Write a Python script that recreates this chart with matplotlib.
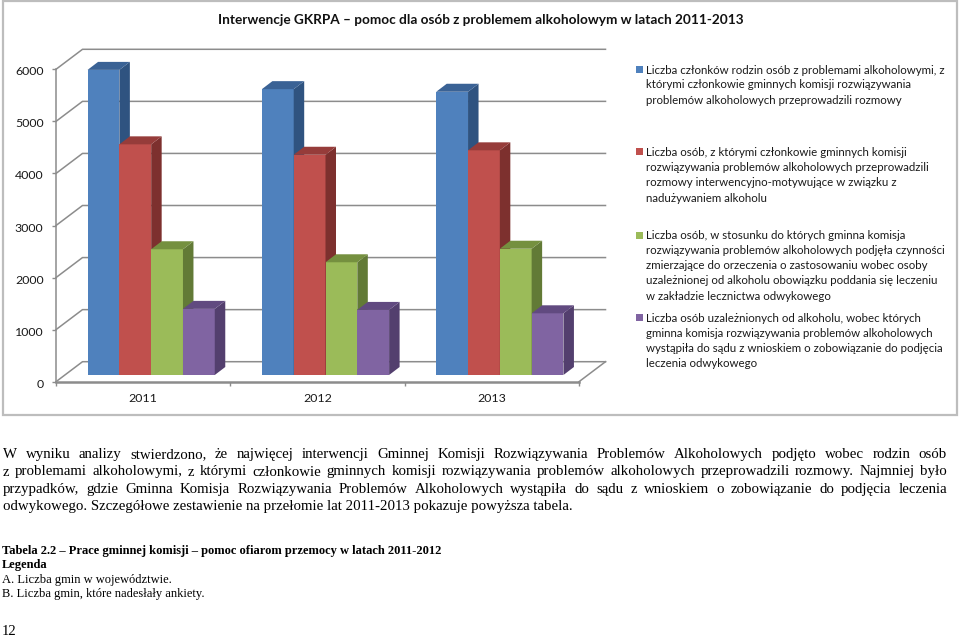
import matplotlib
matplotlib.use("Agg")
import numpy as np
import matplotlib.pyplot as plt
from matplotlib.patches import Polygon, Rectangle
from matplotlib.transforms import ScaledTranslation

W, H = 960, 637

# values
years = ["2011", "2012", "2013"]
czlonkowie_rodzin = [5860, 5490, 5440]
rozmowy = [4430, 4230, 4315]
orzeczenie = [2415, 2165, 2425]
sad = [1270, 1250, 1185]
y_ticks = [0, 1000, 2000, 3000, 4000, 5000, 6000]

title = "Interwencje GKRPA – pomoc dla osób z problemem alkoholowym w latach 2011-2013"

legend_labels = [
    ["Liczba członków rodzin osób z problemami alkoholowymi, z",
     "którymi członkowie gminnych komisji rozwiązywania",
     "problemów alkoholowych przeprowadzili rozmowy"],
    ["Liczba osób, z którymi członkowie gminnych komisji",
     "rozwiązywania problemów alkoholowych przeprowadzili",
     "rozmowy interwencyjno-motywujące w związku z",
     "nadużywaniem alkoholu"],
    ["Liczba osób, w stosunku do których gminna komisja",
     "rozwiązywania problemów alkoholowych podjęła czynności",
     "zmierzające do orzeczenia o zastosowaniu wobec osoby",
     "uzależnionej od alkoholu obowiązku poddania się leczeniu",
     "w zakładzie lecznictwa odwykowego"],
    ["Liczba osób uzależnionych od alkoholu, wobec których",
     "gminna komisja rozwiązywania problemów alkoholowych",
     "wystąpiła do sądu z wnioskiem o zobowiązanie do podjęcia",
     "leczenia odwykowego"],
]
legend_y = [[69.5, 84.5, 99.5], [151.5, 167, 182, 197.5],
            [235, 250, 265, 280, 295.5], [317.5, 333, 348, 363]]

body_lines = [
    "W wyniku analizy stwierdzono, że najwięcej interwencji Gminnej Komisji Rozwiązywania Problemów Alkoholowych podjęto wobec rodzin osób",
    "z problemami alkoholowymi, z którymi członkowie gminnych komisji rozwiązywania problemów alkoholowych przeprowadzili rozmowy. Najmniej było",
    "przypadków, gdzie Gminna Komisja Rozwiązywania Problemów Alkoholowych wystąpiła do sądu z wnioskiem o zobowiązanie do podjęcia leczenia",
    "odwykowego. Szczegółowe zestawienie na przełomie lat 2011-2013 pokazuje powyższa tabela.",
]
body_y = [458, 475.5, 493, 510]

series = [czlonkowie_rodzin, rozmowy, orzeczenie, sad]
front = ["#4F81BD", "#C0504D", "#9BBB59", "#8064A2"]
side = ["#2F5380", "#7D302E", "#627A36", "#533F6E"]
top = ["#3A6295", "#963C3A", "#75903F", "#614A80"]
grid_c = "#8C8C8C"
text_c = "#1A1A1A"

fig = plt.figure(figsize=(W / 100, H / 100), dpi=100)


def fx(x):
    return x / W


def fy(y):
    return 1 - y / H


# chart frame
fig.add_artist(Rectangle((fx(2.5), fy(415)), fx(954.5), fy(1.5) - fy(415),
                         transform=fig.transFigure, fc="white", ec="#BDBDBD", lw=1.6, zorder=-1))

# axes = front plane of the 3D box
x0, x1, y_zero, y_top = 56, 579, 381.7, 69.3
ax = fig.add_axes([fx(x0), fy(y_zero), fx(x1 - x0), fy(y_top) - fy(y_zero)])
ax.set_xlim(0, 3)
ax.set_ylim(0, 6000)
ax.patch.set_alpha(0)

px_x = 3 / (x1 - x0)
px_y = 6000 / (y_zero - y_top)
depth_x, depth_y = 26.5 * px_x, 20 * px_y  # wall depth
bar_dx, bar_dy = 10.5 * px_x, 8 * px_y  # bar depth
floor = 6.7 * px_y
shift = 8 * px_x
w = 31.8 * px_x

# walls
for v in y_ticks:
    ax.plot([0, depth_x, 3 + depth_x], [v, v + depth_y, v + depth_y], color=grid_c, lw=1.1,
            clip_on=False, zorder=1)
ax.plot([3, 3 + depth_x], [0, depth_y], color=grid_c, lw=1.1, clip_on=False, zorder=1)

# bars
for j, vals in enumerate(series):
    xs = np.arange(3) + 0.5 + shift + (j - 1.5) * w
    ax.bar(xs, vals, width=w, bottom=floor, color=front[j], zorder=3 + j, clip_on=False)
    for xc, v in zip(xs, vals):
        l, r = xc - w / 2, xc + w / 2
        t = v + floor
        ax.add_patch(Polygon([(r, floor), (r + bar_dx, floor + bar_dy), (r + bar_dx, t + bar_dy), (r, t)],
                             fc=side[j], ec="none", zorder=3 + j, clip_on=False))
        ax.add_patch(Polygon([(l, t), (l + bar_dx, t + bar_dy), (r + bar_dx, t + bar_dy), (r, t)],
                             fc=top[j], ec="none", zorder=3 + j, clip_on=False))

for s in ["top", "right"]:
    ax.spines[s].set_visible(False)
for s in ["left", "bottom"]:
    ax.spines[s].set_color(grid_c)
    ax.spines[s].set_zorder(2)
ax.spines["left"].set_linewidth(1.1)
ax.spines["bottom"].set_linewidth(1.8)

ax.set_yticks(y_ticks)
ax.set_xticks([0.5, 1.5, 2.5])
ax.set_xticklabels(years)
ax.set_xticks([0, 1, 2, 3], minor=True)
ax.tick_params(axis="x", which="major", length=0, pad=8, labelsize=8.9, labelcolor=text_c)
ax.tick_params(axis="x", which="minor", length=3, color=grid_c, width=1)
ax.tick_params(axis="y", length=3, color=grid_c, width=1, pad=6, labelsize=8.9, labelcolor=text_c)
for lab in ax.get_xticklabels() + ax.get_yticklabels():
    lab.set_family("Lato")
# y labels sit a little below their ticks
for lab in ax.get_yticklabels():
    lab.set_transform(lab.get_transform() + ScaledTranslation(0, -1.5 / 100, fig.dpi_scale_trans))

fig.text(fx(481), fy(20), title, family="Lato", weight="bold", fontsize=9.8, color="#111111",
         ha="center", va="center")

# legend
for j, (lines, ys) in enumerate(zip(legend_labels, legend_y)):
    fig.add_artist(Rectangle((fx(635.7), fy(ys[0] + 3.5)), 7 / W, 7 / H, fc=front[j], ec="none",
                             transform=fig.transFigure))
    for line, y in zip(lines, ys):
        fig.text(fx(645.7), fy(y + 4), line, family="Lato", fontsize=8.3, color=text_c, va="baseline")

# page text under the chart, justified by hand
renderer = fig.canvas.get_renderer()
for i, (line, y) in enumerate(zip(body_lines, body_y)):
    if i == 3:
        t = fig.text(fx(3), fy(y), line, family="Liberation Serif", fontsize=10.75, color="black", va="baseline")
        continue
    words = line.split(" ")
    texts = [fig.text(0, fy(y), wd, family="Liberation Serif", fontsize=10.75, color="black", va="baseline")
             for wd in words]
    widths = [t.get_window_extent(renderer).width for t in texts]
    gap = (947 - 3 - sum(widths)) / (len(words) - 1)
    cur = 3
    for t, wd in zip(texts, widths):
        t.set_x(fx(cur))
        cur += wd + gap

fig.text(fx(2), fy(554), "Tabela 2.2 – Prace gminnej komisji – pomoc ofiarom przemocy w latach 2011-2012",
         family="Liberation Serif", weight="bold", fontsize=9.0, color="black", va="baseline")
fig.text(fx(2), fy(568), "Legenda", family="Liberation Serif", weight="bold", fontsize=9.0, color="black", va="baseline")
fig.text(fx(2), fy(582.5), "A. Liczba gmin w województwie.", family="Liberation Serif", fontsize=9.0, color="black", va="baseline")
fig.text(fx(2), fy(596.5), "B. Liczba gmin, które nadesłały ankiety.", family="Liberation Serif", fontsize=9.0, color="black", va="baseline")
fig.text(fx(2), fy(635), "12", family="Liberation Serif", fontsize=10.5, color="black", va="baseline")

fig.savefig("out.png", dpi=100)
